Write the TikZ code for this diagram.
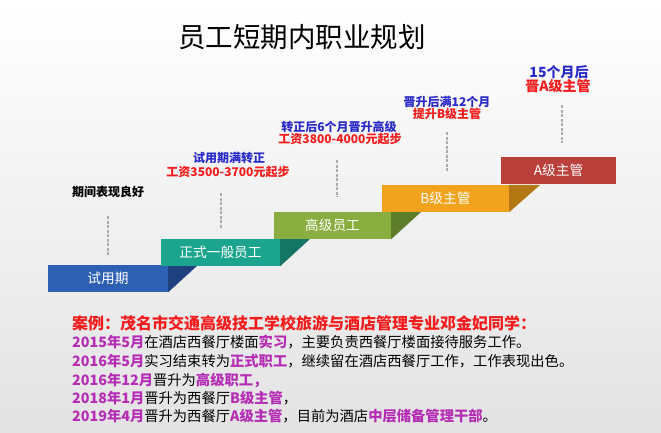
\documentclass[tikz,border=0pt]{standalone}
\usepackage{fontspec}
\setmainfont{Noto Sans CJK SC}
\definecolor{sblue}{HTML}{2D5FB2}
\definecolor{sbluedk}{HTML}{1F4180}
\definecolor{steal}{HTML}{1CA58E}
\definecolor{stealdk}{HTML}{137564}
\definecolor{sgreen}{HTML}{89AD3E}
\definecolor{sgreendk}{HTML}{5E7D2B}
\definecolor{sorange}{HTML}{F2A31D}
\definecolor{sorangedk}{HTML}{B47812}
\definecolor{sred}{HTML}{BA403B}
\definecolor{tblue}{HTML}{2A2AC8}
\definecolor{tred}{HTML}{F41C1C}
\definecolor{tmag}{HTML}{B52DB5}
\newcommand\mgx[1]{\textcolor{tmag}{\bfseries #1}}
\begin{document}
\begin{tikzpicture}[x=1pt,y=-1pt,
  stepbox/.style={minimum height=27pt, inner sep=0pt, text=white, font=\fontsize{13.7}{15}\selectfont},
  lbl/.style={inner sep=0pt, font=\bfseries\fontsize{12}{14}\selectfont},
  lblbig/.style={inner sep=0pt, font=\bfseries\fontsize{14}{16}\selectfont},
  dashline/.style={draw=gray!65, line width=1.4pt, dash pattern=on 3pt off 1.5pt},
  body/.style={anchor=west, inner sep=0pt, font=\fontsize{14.3}{16}\selectfont}]
\useasboundingbox (0,0) rectangle (661,432);
\shade[top color=white, bottom color=black!11] (0,0) rectangle (661,432);

% title
\node[font=\fontsize{27.5}{30}\selectfont, inner sep=0pt] (title) at (302,37) {员工短期内职业规划};

% steps
\node[stepbox, fill=sblue, minimum width=120pt] (s1) at (108,278.5) {试用期};
\fill[sbluedk] (s1.north east) -- ++(30,0) -- (s1.south east) -- cycle;
\node[stepbox, fill=steal, minimum width=119pt] (s2) at (220.5,252.5) {正式一般员工};
\fill[stealdk] (s2.north east) -- ++(30,0) -- (s2.south east) -- cycle;
\node[stepbox, fill=sgreen, minimum width=117pt] (s3) at (332.5,225.5) {高级员工};
\fill[sgreendk] (s3.north east) -- ++(30,0) -- (s3.south east) -- cycle;
\node[stepbox, fill=sorange, minimum width=127pt] (s4) at (445.5,198.5) {B级主管};
\fill[sorangedk] (s4.north east) -- ++(31,0) -- (s4.south east) -- cycle;
\node[stepbox, fill=sred, minimum width=115pt] (s5) at (558.5,170.5) {A级主管};

% dashed lines
\coordinate (d1t) at (108,216); \coordinate (d1b) at (108,255);
\coordinate (d2t) at (221,193); \coordinate (d2b) at (221,228);
\coordinate (d3t) at (337,160); \coordinate (d3b) at (337,197);
\coordinate (d4t) at (447,132); \coordinate (d4b) at (447,172);
\coordinate (d5t) at (562,105); \coordinate (d5b) at (562,143);
\draw[dashline] (d1t) -- (d1b);
\draw[dashline] (d2t) -- (d2b);
\draw[dashline] (d3t) -- (d3b);
\draw[dashline] (d4t) -- (d4b);
\draw[dashline] (d5t) -- (d5b);

% labels
\node[lbl] (l0) at (108,192) {期间表现良好};
\node[lbl, text=tblue] (l1a) at (229,158) {试用期满转正};
\node[lbl, text=tred] (l1b) at (228,172) {工资3500-3700元起步};
\node[lbl, text=tblue] (l2a) at (339,127) {转正后6个月晋升高级};
\node[lbl, text=tred] (l2b) at (340,139) {工资3800-4000元起步};
\node[lbl, text=tblue] (l3a) at (447,102) {晋升后满12个月};
\node[lbl, text=tred] (l3b) at (447,114) {提升B级主管};
\node[lblbig, text=tblue] (l4a) at (559,72) {15个月后};
\node[lblbig, text=tred] (l4b) at (558,86) {晋A级主管};

% case text
\node[body, font=\bfseries\fontsize{16}{18}\selectfont, text=tred] (t1) at (72,323) {案例：茂名市交通高级技工学校旅游与酒店管理专业邓金妃同学：};
\node[body] (t2) at (72,342) {\mgx{2015年5月}在酒店西餐厅楼面\mgx{实习}，主要负责西餐厅楼面接待服务工作。};
\node[body] (t3) at (72,361) {\mgx{2016年5月}实习结束转为\mgx{正式职工}，继续留在酒店西餐厅工作，工作表现出色。};
\node[body] (t4) at (72,380) {\mgx{2016年12月}晋升为\mgx{高级职工，}};
\node[body] (t5) at (72,398) {\mgx{2018年1月}晋升为西餐厅\mgx{B级主管}，};
\node[body] (t6) at (72,416) {\mgx{2019年4月}晋升为西餐厅\mgx{A级主管}，目前为酒店\mgx{中层储备管理干部}。};
\end{tikzpicture}
\end{document}
